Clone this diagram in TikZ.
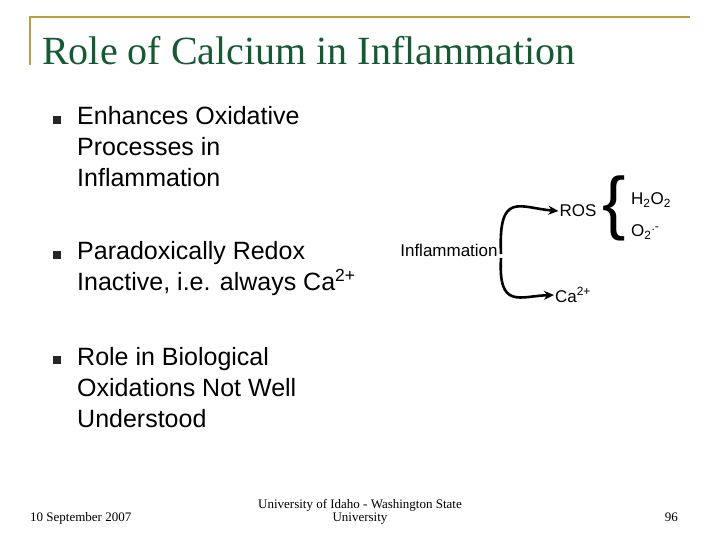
\documentclass[tikz,border=0pt]{standalone}
\usepackage{fontspec}
\setmainfont{Liberation Sans}
\newfontfamily\serifx{Liberation Serif}
\usetikzlibrary{arrows.meta}
\definecolor{gold}{RGB}{184,160,64}
\definecolor{tgreen}{RGB}{20,90,50}
\begin{document}
\begin{tikzpicture}[x=1pt,y=-1pt,
  bul/.style={fill=black!85,minimum size=8pt,inner sep=0pt},
  btxt/.style={anchor=north west,align=left,font=\fontsize{25}{31}\selectfont,inner sep=0pt},
  small/.style={font=\fontsize{17}{19}\selectfont,inner sep=1pt},
  foot/.style={font=\serifx\fontsize{13}{13.5}\selectfont,inner sep=0pt},
  arr/.style={line width=2.6pt,-{Stealth[length=10pt,width=9pt]}}]
\useasboundingbox (0,0) rectangle (720,540);
\draw[gold,line width=2pt] (30,65) -- (30,17) -- (690,17);
\node[anchor=base west,inner sep=0pt,text=tgreen,font=\serifx\fontsize{40}{42}\selectfont] (title) at (42,65) {Role of Calcium in Inflammation};
\node[bul] (b1) at (57,120) {};
\node[bul] (b2) at (57,255) {};
\node[bul] (b3) at (57,360) {};
\node[btxt] (t1) at (77,106) {Enhances Oxidative\\Processes in\\Inflammation};
\node[btxt] (t2) at (77,241) {Paradoxically Redox\\Inactive, i.e. always Ca\textsuperscript{2+}};
\node[btxt] (t3) at (77,347) {Role in Biological\\Oxidations Not Well\\Understood};
\node[small] (inf) at (449,250) {Inflammation};
\node[small] (ros) at (578,211) {ROS};
\node[small] (ca) at (573,295) {Ca\textsuperscript{2+}};
\draw[arr] (501,254) .. controls (498,190) and (520,208) .. (ros.west);
\draw[arr] (501,258) .. controls (498,310) and (520,296) .. (ca.west);
\node[font=\fontsize{70}{70}\selectfont,inner sep=0pt] (brace) at (614,208) {\{};
\node[small,anchor=west] (h2o2) at (630,200) {H\textsubscript{2}O\textsubscript{2}};
\node[small,anchor=west] (o2) at (630,232) {O\textsubscript{2}\textsuperscript{.-}};
\node[foot,anchor=base west] (date) at (30,521) {10 September 2007};
\node[foot,align=center] (uni) at (360,512) {University of Idaho - Washington State\\University};
\node[foot,anchor=base east] (num) at (678,521) {96};
\end{tikzpicture}
\end{document}
